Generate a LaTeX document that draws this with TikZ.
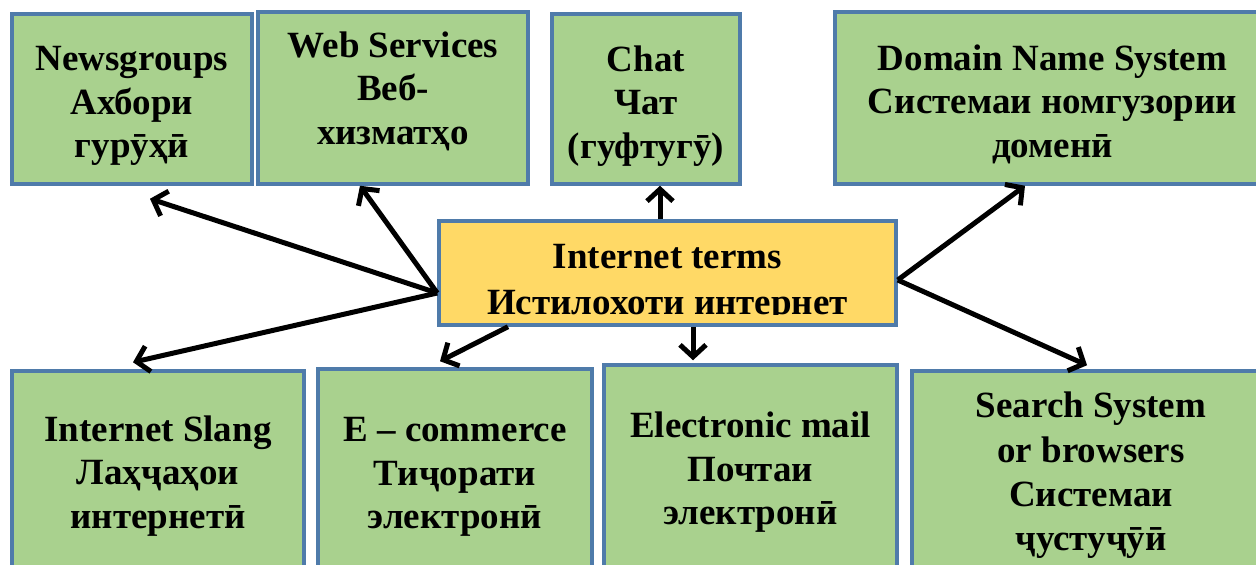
\documentclass[tikz,border=0pt]{standalone}
\usepackage{fontspec}
\setmainfont{Liberation Serif}
\usetikzlibrary{arrows.meta}
\definecolor{boxgreen}{HTML}{A9D18E}
\definecolor{boxyellow}{HTML}{FFD966}
\definecolor{boxline}{HTML}{4F7BAA}

\begin{document}
\begin{tikzpicture}[x=1pt, y=-1pt, >={Straight Barb[length=12pt,width=26pt]}]
			\tikzstyle{term}=[draw=boxline, line width=3.5pt, fill=boxgreen, inner sep=0pt]
			\tikzstyle{root}=[term, fill=boxyellow]
			\tikzstyle{txt}=[inner sep=0pt, align=center, font=\bfseries\fontsize{37}{43.5}\selectfont]
			\tikzstyle{every edge}=[draw, line width=5pt]
			\clip (0,0) rectangle (1256,565);
			
			% boxes
			\node[root, minimum width=457pt, minimum height=104pt] (c)      at (667.5,273) {};
			\node[term, minimum width=240pt, minimum height=170pt] (news)   at (132,99)    {};
			\node[term, minimum width=270pt, minimum height=172pt] (web)    at (393,98)    {};
			\node[term, minimum width=188pt, minimum height=170pt] (chat)   at (646,99)    {};
			\node[term, minimum width=435pt, minimum height=172pt] (dns)    at (1052.5,98) {};
			\node[term, minimum width=292pt, minimum height=202pt] (slang)  at (158,472)   {};
			\node[term, minimum width=274pt, minimum height=206pt] (ecom)   at (455,472)   {};
			\node[term, minimum width=293pt, minimum height=208pt] (email)  at (750.5,469) {};
			\node[term, minimum width=358pt, minimum height=205pt] (search) at (1091,473.5) {};
			
			% texts
			\begin{scope}
				\clip (c.north west) rectangle ([yshift=12pt]c.south east);
				\node[txt, font=\bfseries\fontsize{37}{46}\selectfont] (c_t) at (667.5,283) {Internet terms\\Истилохоти интернет};
			\end{scope}
			\node[txt] (news_t)   at (132,106)    {Newsgroups\\Ахбори\\гурӯҳӣ};
			\node[txt] (web_t)    at (393,91)     {Web Services\\Веб-\\хизматҳо};
			\node[txt] (chat_t)   at (646,106)    {Chat\\Чат\\(гуфтугӯ)};
			\node[txt] (dns_t)    at (1052.5,104) {Domain Name System\\Системаи номгузории\\доменӣ};
			\node[txt] (slang_t)  at (158,476)    {Internet Slang\\Лаҳҷаҳои\\интернетӣ};
			\node[txt] (ecom_t)   at (455,477)    {E – commerce\\Тиҷорати\\электронӣ};
			\node[txt] (email_t)  at (750.5,472.5) {Electronic mail\\Почтаи\\электронӣ};
			\node[txt, font=\bfseries\fontsize{37}{44.3}\selectfont] (search_t) at (1091,475.5) {Search System\\or browsers\\Системаи\\ҷустуҷӯӣ};
			
			\path[->]
			([yshift=-20pt]c.west) edge ([xshift=18pt,yshift=-13pt]news.south)
			edge ([xshift=-33pt]web.south)
			edge ([xshift=-25pt,yshift=7pt]slang.north)
			([xshift=-7.5pt]c.north) edge ([xshift=14pt]chat.south)
			([yshift=-7pt]c.east) edge ([xshift=-27.5pt]dns.south)
			edge ([xshift=-4pt,yshift=4pt]search.north)
			([xshift=-159.5pt]c.south) edge ([xshift=-15pt,yshift=6pt]ecom.north)
			([xshift=25.5pt]c.south) edge ([xshift=-57.5pt,yshift=3pt]email.north);
		\end{tikzpicture}
\end{document}
